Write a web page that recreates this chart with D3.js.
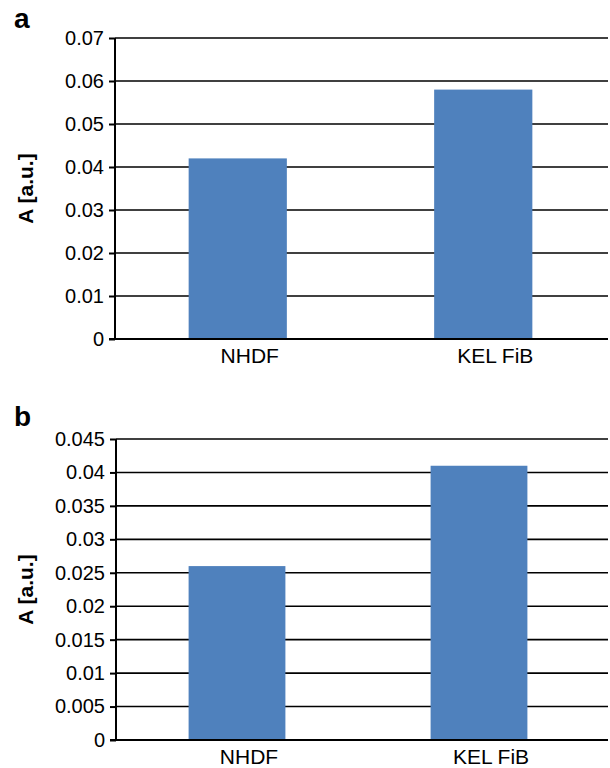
<!DOCTYPE html>
<html>
<head>
<meta charset="UTF-8">
<script src="https://d3js.org/d3.v7.min.js"></script>
<style>
  body { margin: 0; background: #fff; }
  text { font-family: "Liberation Sans", Arial, sans-serif; }
</style>
</head>
<body>
<div id="chart"></div>
<script>
// data
let categories = ["NHDF", "KEL FiB"];
let valuesA = [0.042, 0.058];
let valuesB = [0.026, 0.041];
let ticksA = [0, 0.01, 0.02, 0.03, 0.04, 0.05, 0.06, 0.07];
let ticksB = [0, 0.005, 0.01, 0.015, 0.02, 0.025, 0.03, 0.035, 0.04, 0.045];

let svg = d3.select("#chart").append("svg")
    .attr("width", 610).attr("height", 768);

function panel(letter, values, ticks, box) {
    let g = svg.append("g");
    let y = d3.scaleLinear()
        .domain([0, d3.max(ticks)])
        .range([box.bottom, box.top]);
    let x = d3.scaleBand()
        .domain(categories)
        .range([box.left, box.right]);

    // gridlines
    g.selectAll(".grid").data(ticks.slice(1)).enter().append("line")
        .attr("x1", box.left).attr("x2", 608)
        .attr("y1", d => y(d)).attr("y2", d => y(d))
        .attr("stroke", "#000").attr("stroke-width", 1.6);

    // bars
    let bw = x.bandwidth() * 0.4;
    g.selectAll(".bar").data(values).enter().append("rect")
        .attr("x", (d, i) => x(categories[i]) + x.bandwidth() / 2 - bw / 2)
        .attr("width", bw)
        .attr("y", d => y(d))
        .attr("height", d => box.bottom - y(d))
        .attr("fill", "#4f81bd");

    // y axis
    let ax = g.append("g")
        .attr("transform", "translate(" + box.left + ",0)")
        .call(d3.axisLeft(y).tickValues(ticks).tickSize(6).tickPadding(5)
            .tickFormat(d => String(+d.toFixed(4))));
    ax.select(".domain").attr("stroke-width", 2).attr("d", "M0," + box.bottom + "V" + box.top);
    ax.selectAll(".tick line").attr("stroke-width", 2);
    ax.selectAll("text").attr("font-size", 20).attr("fill", "#000")
        .style("font-family", "'Liberation Sans', Arial, sans-serif");

    // x baseline
    g.append("line")
        .attr("x1", box.left - 6).attr("x2", 608)
        .attr("y1", box.bottom).attr("y2", box.bottom)
        .attr("stroke", "#000").attr("stroke-width", 2);

    // x labels
    g.selectAll(".xl").data(categories).enter().append("text")
        .attr("x", d => x(d) + x.bandwidth() / 2 + 12)
        .attr("y", box.bottom + 24)
        .attr("text-anchor", "middle")
        .attr("font-size", 21)
        .text(d => d);

    // y title
    g.append("text")
        .attr("transform", "translate(33," + ((box.top + box.bottom) / 2) + ") rotate(-90)")
        .attr("text-anchor", "middle")
        .attr("font-size", 21)
        .attr("font-weight", "bold")
        .text("A [a.u.]");

    // panel letter
    g.append("text")
        .attr("x", 14).attr("y", box.top - box.letterGap)
        .attr("font-size", 28)
        .attr("font-weight", "bold")
        .text(letter);
}

panel("a", valuesA, ticksA, { left: 115, right: 606, top: 38, bottom: 339, letterGap: 10 });
panel("b", valuesB, ticksB, { left: 116, right: 600, top: 439, bottom: 740, letterGap: 13 });
</script>
</body>
</html>
